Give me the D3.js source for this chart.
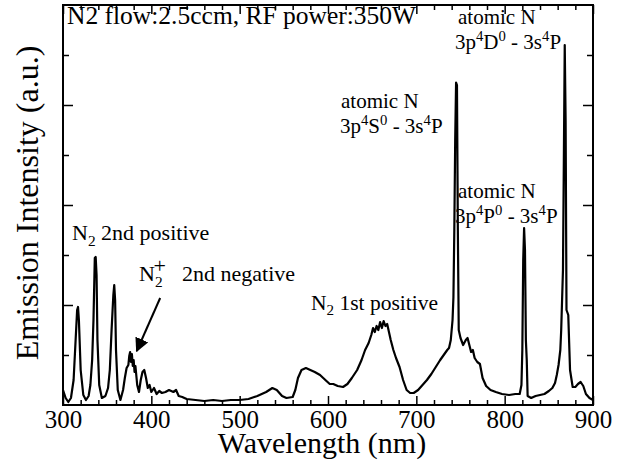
<!DOCTYPE html>
<html>
<head>
<meta charset="utf-8">
<script src="https://cdn.jsdelivr.net/npm/d3@7"></script>
<style>
  html, body { margin: 0; padding: 0; background: #fff; }
  text { font-family: "Liberation Serif", "DejaVu Serif", serif; fill: #000; }
  .xlab .tick text { font-family: "Liberation Serif", serif; font-size: 25px; fill: #000; }
</style>
</head>
<body>
<div id="viz"></div>
<script>
// wavelength (nm) of each sample
const wavelength = [
  300, 303, 306, 309, 312, 314, 316, 317, 318, 320, 323, 326, 329, 331, 333, 334.5, 336, 337, 338, 339,
  341, 344, 348, 351, 353, 355, 357, 358, 359, 360, 362, 365, 368, 370, 372, 374, 375, 376, 377, 378,
  379, 380, 381, 382, 384, 386, 388, 390, 392, 394, 396, 398, 400, 403, 406, 409, 412, 416, 420, 425,
  428, 431, 435, 440, 450, 460, 470, 480, 490, 500, 510, 520, 530, 537, 542, 548, 553, 560, 563, 566,
  570, 575, 580, 585, 591, 597, 602, 606, 611, 617, 622, 627, 633, 638, 642, 646, 649, 651, 653, 655,
  657, 659, 661, 663, 665, 667, 669, 671, 674, 677, 681, 685, 689, 693, 697, 702, 707, 712, 717, 722,
  727, 731, 735, 737, 739, 741, 742, 743, 744, 745, 746, 747, 748, 750, 753, 756, 758, 760, 762, 764,
  766, 769, 772, 775, 779, 784, 790, 797, 805, 812, 817, 819, 820, 821, 822, 823, 824, 825, 826, 830,
  835, 840, 845, 850, 854, 857, 859, 861, 863, 864, 865, 866, 867, 868, 869, 870, 872, 874, 877, 880,
  883, 886, 889, 892, 896, 900
]

// emission intensity (a.u.), one per wavelength
const intensity = [
  0.30, 0.14, 0.06, 0.14, 0.50, 1.20, 1.90, 1.96, 1.70, 0.70, 0.20, 0.10, 0.18, 0.40, 0.90, 1.70, 2.94, 2.96, 2.60, 1.30,
  0.40, 0.14, 0.18, 0.34, 0.70, 1.50, 2.20, 2.40, 2.10, 1.10, 0.30, 0.10, 0.30, 0.54, 0.74, 0.80, 0.98, 1.06, 0.86, 1.02,
  0.78, 0.90, 0.66, 0.78, 0.40, 0.26, 0.50, 0.66, 0.70, 0.54, 0.34, 0.40, 0.26, 0.34, 0.22, 0.28, 0.24, 0.26, 0.30, 0.26,
  0.30, 0.18, 0.16, 0.12, 0.10, 0.08, 0.10, 0.08, 0.10, 0.10, 0.12, 0.18, 0.26, 0.34, 0.30, 0.18, 0.14, 0.16, 0.30, 0.54,
  0.70, 0.74, 0.70, 0.66, 0.60, 0.50, 0.42, 0.42, 0.38, 0.36, 0.42, 0.54, 0.70, 0.90, 1.10, 1.24, 1.40, 1.54, 1.46, 1.58,
  1.50, 1.66, 1.54, 1.68, 1.58, 1.62, 1.46, 1.30, 1.10, 0.94, 0.76, 0.50, 0.30, 0.24, 0.24, 0.30, 0.40, 0.50, 0.62, 0.76,
  0.90, 1.00, 1.10, 1.14, 1.30, 1.70, 2.16, 3.50, 5.30, 6.45, 6.40, 3.50, 1.50, 1.34, 1.20, 1.30, 1.34, 1.20, 1.06, 1.10,
  0.94, 0.86, 0.82, 0.54, 0.38, 0.30, 0.26, 0.22, 0.20, 0.22, 0.22, 0.40, 1.10, 2.90, 3.54, 3.10, 1.30, 0.90, 0.18, 0.14,
  0.18, 0.20, 0.22, 0.28, 0.34, 0.44, 0.60, 0.80, 1.10, 1.50, 2.10, 2.70, 4.90, 7.20, 5.70, 1.90, 1.80, 0.70, 0.36, 0.36,
  0.42, 0.46, 0.38, 0.22, 0.14, 0.10
]

const xTicks = [300, 400, 500, 600, 700, 800, 900]

const width = 621
const height = 472
const margin = { top: 5, right: 28, bottom: 67, left: 63 }
const plotW = width - margin.left - margin.right
const plotH = height - margin.top - margin.bottom

const svg = d3.select('#viz')
  .append('svg')
  .attr('width', width)
  .attr('height', height)

const g = svg.append('g')
  .attr('transform', `translate(${margin.left}, ${margin.top})`)

const x = d3.scaleLinear().domain([300, 900]).range([0, plotW])
const y = d3.scaleLinear().domain([0, 8]).range([plotH, 0])

// spectrum
const points = wavelength.map((w, i) => [w, intensity[i]])
g.append('path')
  .datum(points)
  .attr('fill', 'none')
  .attr('stroke', '#000')
  .attr('stroke-width', 2.2)
  .attr('stroke-linejoin', 'round')
  .attr('d', d3.line().x(d => x(d[0])).y(d => y(d[1])))

// axes: ticks pointing inward on all four sides
function styleAxis (sel) {
  sel.select('.domain').remove()
  sel.attr('font-family', null).attr('font-size', null)
  sel.selectAll('.tick line').attr('stroke', '#000').attr('stroke-width', 1.5)
}

const minorX = d3.range(300, 901, 20).filter(v => v % 100 !== 0)
const minorY = [1, 3, 5, 7]
const majorY = [2, 4, 6]

g.append('g')
  .attr('class', 'xlab')
  .attr('transform', `translate(0, ${plotH})`)
  .call(d3.axisBottom(x).tickValues(xTicks).tickSize(-9).tickPadding(0).tickFormat(d3.format('d')))
  .call(styleAxis)
  .call(a => a.selectAll('.tick text').attr('dy', null).attr('y', 23).attr('font-size', 25))

g.append('g').attr('transform', `translate(0, ${plotH})`)
  .call(d3.axisBottom(x).tickValues(minorX).tickSize(-5).tickFormat(''))
  .call(styleAxis)

g.append('g')
  .call(d3.axisTop(x).tickValues(xTicks).tickSize(-9).tickFormat(''))
  .call(styleAxis)
g.append('g')
  .call(d3.axisTop(x).tickValues(minorX).tickSize(-5).tickFormat(''))
  .call(styleAxis)

g.append('g')
  .call(d3.axisLeft(y).tickValues(majorY).tickSize(-10).tickFormat(''))
  .call(styleAxis)
g.append('g')
  .call(d3.axisLeft(y).tickValues(minorY).tickSize(-6).tickFormat(''))
  .call(styleAxis)
g.append('g').attr('transform', `translate(${plotW}, 0)`)
  .call(d3.axisRight(y).tickValues(majorY).tickSize(-10).tickFormat(''))
  .call(styleAxis)
g.append('g').attr('transform', `translate(${plotW}, 0)`)
  .call(d3.axisRight(y).tickValues(minorY).tickSize(-6).tickFormat(''))
  .call(styleAxis)

g.append('rect')
  .attr('width', plotW)
  .attr('height', plotH)
  .attr('fill', 'none')
  .attr('stroke', '#000')
  .attr('stroke-width', 2)

// axis titles
svg.append('text')
  .attr('x', margin.left + x(600) - 6)
  .attr('y', 453)
  .attr('text-anchor', 'middle')
  .attr('font-size', 30)
  .text('Wavelength (nm)')

svg.append('text')
  .attr('transform', 'translate(38, 203) rotate(-90)')
  .attr('text-anchor', 'middle')
  .attr('font-size', 32)
  .text('Emission Intensity (a.u.)')

// rich text: segments of [text, 'sub' | 'sup' | '', dy, dx]
function richText (parent, px, py, size, segs) {
  const t = parent.append('text')
    .attr('x', px)
    .attr('y', py)
    .attr('font-size', size)
  segs.forEach(s => {
    const span = t.append('tspan').text(s[0])
    if (s[1] === 'sub') span.attr('font-size', size * 0.7).attr('dy', size * 0.25)
    else if (s[1] === 'sup') span.attr('font-size', size * 0.7).attr('dy', -size * 0.4)
    else if (s[2]) span.attr('dy', s[2])
    if (s[3]) span.attr('dx', s[3])
  })
  return t
}

const ann = svg.append('g')

richText(ann, 67, 24, 25.5, [['N2 flow:2.5ccm, RF power:350W', '']])

// atomic N lines
const fs = 21
ann.append('text').attr('x', 458).attr('y', 24).attr('font-size', fs).text('atomic N')
richText(ann, 455, 49, fs, [['3p', ''], ['4', 'sup'], ['D', '', 8.4], ['0', 'sup'], [' - 3s', '', 8.4], ['4', 'sup'], ['P', '', 8.4]])

ann.append('text').attr('x', 341).attr('y', 108).attr('font-size', fs).text('atomic N')
richText(ann, 340, 133, fs, [['3p', ''], ['4', 'sup'], ['S', '', 8.4], ['0', 'sup'], [' - 3s', '', 8.4], ['4', 'sup'], ['P', '', 8.4]])

ann.append('text').attr('x', 458).attr('y', 198).attr('font-size', fs).text('atomic N')
richText(ann, 455, 223, fs, [['3p', ''], ['4', 'sup'], ['P', '', 8.4], ['0', 'sup'], [' - 3s', '', 8.4], ['4', 'sup'], ['P', '', 8.4]])

// molecular bands
richText(ann, 72, 240, 22, [['N', ''], ['2', 'sub'], ['  2nd positive', '', -5.5]])
richText(ann, 139, 281, 22, [['N', ''], ['2', 'sub'], ['+', '', -14, -9], ['2nd negative', '', 8.5, 16]])
richText(ann, 311, 310, 21.5, [['N', ''], ['2', 'sub'], [' 1st positive', '', -5.4]])

// arrow to the N2+ band
svg.append('defs').append('marker')
  .attr('id', 'head')
  .attr('viewBox', '0 0 10 10')
  .attr('refX', 9).attr('refY', 5)
  .attr('markerWidth', 7).attr('markerHeight', 7)
  .attr('orient', 'auto')
  .append('path').attr('d', 'M0,0 L10,5 L0,10 z').attr('fill', '#000')

g.append('line')
  .attr('x1', x(410)).attr('y1', y(2.14))
  .attr('x2', x(383.5)).attr('y2', y(1.08))
  .attr('stroke', '#000')
  .attr('stroke-width', 2)
  .attr('marker-end', 'url(#head)')
</script>
</body>
</html>
